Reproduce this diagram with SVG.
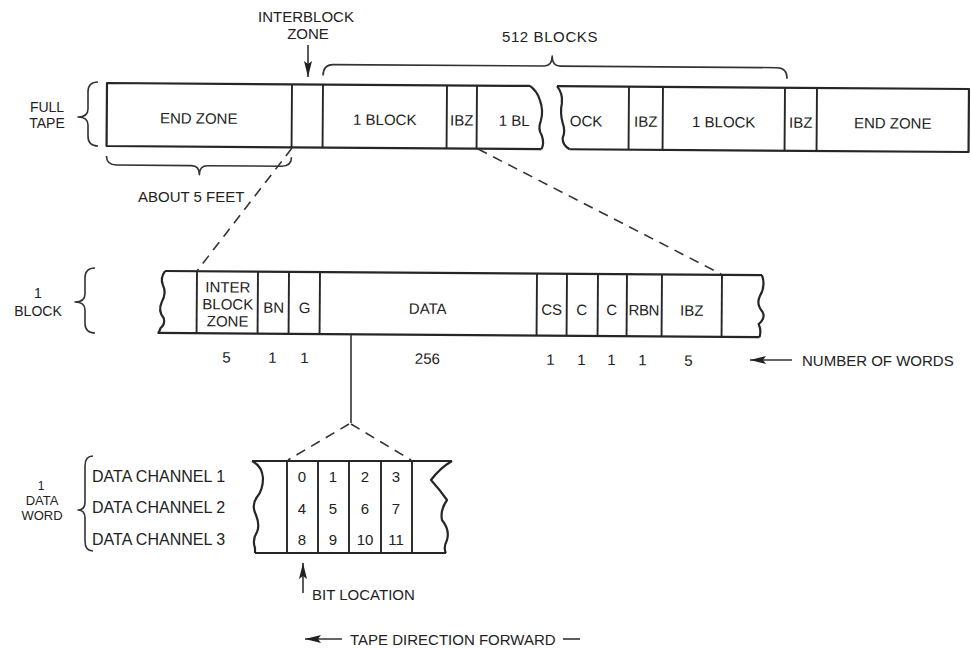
<svg xmlns="http://www.w3.org/2000/svg" width="971" height="649" viewBox="0 0 971 649">
<style>
.t{font-family:"Liberation Sans",Arial,sans-serif;font-size:15px;fill:#222}
.m{text-anchor:middle}
.s{font-size:14px}
.o{fill:none;stroke:#262626;stroke-width:2.2;stroke-linejoin:round}
.d{fill:none;stroke:#262626;stroke-width:1.9}
.b{fill:none;stroke:#333;stroke-width:1.6;stroke-linejoin:round}
.dash{fill:none;stroke:#333;stroke-width:1.6;stroke-dasharray:10 7}
.ln{fill:none;stroke:#333;stroke-width:1.6}
</style>
<defs>
<marker id="ah" viewBox="0 0 16 8" refX="16" refY="4" markerWidth="16" markerHeight="8" markerUnits="userSpaceOnUse" orient="auto">
<path d="M0,0 L16,4 L0,8 L3,4 z" fill="#222"/>
</marker>
</defs>
<rect width="971" height="649" fill="#fff"/>

<!-- Side labels -->
<g id="label-full-tape">
<text class="t m s" x="47" y="112">FULL</text>
<text class="t m s" x="47" y="128">TAPE</text>
<path class="b" d="M98 82 Q88 82 88 92 L88 109 Q88 117 78 117 Q88 117 88 125 L88 136 Q88 146 98 146"/>
</g>
<g id="label-interblock-zone">
<text class="t m" x="306" y="22">INTERBLOCK</text>
<text class="t m" x="308" y="39">ZONE</text>
</g>
<g id="label-512-blocks">
<text class="t m" x="550" y="42" style="letter-spacing:0.6px">512 BLOCKS</text>
</g>

<!-- Full tape (slightly skewed like the original print) -->
<g id="full-tape" transform="rotate(0.4 107 83)">
<path class="o" d="M530 83 L107 83 L107 146 L542 146"/>
<path class="o" d="M530 83 Q537 88 540 97 Q544 108 541 118 Q538 126 542 132 Q545 140 542 146"/>
<path class="o" d="M557 83 L969 83 L969 146 L570 146"/>
<path class="o" d="M557 83 Q563 90 562 100 Q560 110 563 120 Q566 128 563 135 Q563 142 570 146"/>
<g id="tape-end-zone-1"><text class="t m" x="199" y="123">END ZONE</text></g>
<g id="tape-ibz-0"><path class="d" d="M292 83 V146 M323 83 V146"/></g>
<g id="tape-block-1"><text class="t m" x="385" y="123">1 BLOCK</text></g>
<g id="tape-ibz-1"><path class="d" d="M447 83 V146 M477 83 V146"/><text class="t m" x="462" y="123">IBZ</text></g>
<g id="tape-block-2a"><text class="t" x="499" y="123">1 BL</text></g>
<g id="tape-block-2b"><text class="t" x="570" y="123">OCK</text></g>
<g id="tape-ibz-2"><path class="d" d="M629 83 V146 M663 83 V146"/><text class="t m" x="646" y="123">IBZ</text></g>
<g id="tape-block-3"><text class="t m" x="724" y="123">1 BLOCK</text></g>
<g id="tape-ibz-3"><path class="d" d="M785 83 V146 M817 83 V146"/><text class="t m" x="801" y="123">IBZ</text></g>
<g id="tape-end-zone-2"><text class="t m" x="893" y="123">END ZONE</text></g>
<g id="brace-512"><path class="b" d="M323 74 Q323 63 333 63 L544 63 Q552 63 552 53 Q552 63 560 63 L777 63 Q787 63 787 74"/></g>
<g id="brace-5-feet"><path class="b" d="M107 156 Q107 165 117 165 L192 165 Q200 165 200 174 Q200 165 208 165 L282 165 Q292 165 292 156"/></g>
</g>
<g id="label-about-5-feet"><text class="t" x="138" y="202">ABOUT 5 FEET</text></g>

<!-- 1 block label -->
<g id="label-1-block">
<text class="t m s" x="38" y="298">1</text>
<text class="t m s" x="38" y="316">BLOCK</text>
<path class="b" d="M95 268 Q85 268 85 278 L85 294 Q85 302 75 302 Q85 302 85 310 L85 323 Q85 333 95 333"/>
</g>

<!-- Block detail -->
<g id="block-detail" transform="rotate(0.4 162 271)">
<path class="o" d="M165 271 L762 271 M158 333 L760 333"/>
<path class="o" d="M165 271 Q160 278 163 285 Q167 293 162 302 Q158 311 164 318 Q166 324 161 328 L159 333"/>
<path class="o" d="M762 271 Q766 282 760 292 Q756 300 763 308 Q766 314 759 320 Q762 326 760 333"/>
<path class="d" d="M197 271 V333"/>
<g id="blk-ibz-in"><path class="d" d="M258 271 V333"/>
<text class="t m" x="228" y="292">INTER</text><text class="t m" x="228" y="309">BLOCK</text><text class="t m" x="228" y="326">ZONE</text>
<text class="t m" x="227" y="362">5</text></g>
<g id="blk-bn"><path class="d" d="M289 271 V333"/><text class="t m" x="274" y="312">BN</text><text class="t m" x="273" y="362">1</text></g>
<g id="blk-g"><path class="d" d="M320 271 V333"/><text class="t m" x="305" y="312">G</text><text class="t m" x="305" y="362">1</text></g>
<g id="blk-data"><text class="t m" x="428" y="312">DATA</text><text class="t m" x="428" y="362">256</text></g>
<g id="blk-cs"><path class="d" d="M537 271 V333 M567 271 V333"/><text class="t m" x="552" y="312">CS</text><text class="t m" x="551" y="362">1</text></g>
<g id="blk-c1"><path class="d" d="M598 271 V333"/><text class="t m" x="582" y="312">C</text><text class="t m" x="582" y="362">1</text></g>
<g id="blk-c2"><path class="d" d="M627 271 V333"/><text class="t m" x="612" y="312">C</text><text class="t m" x="612" y="362">1</text></g>
<g id="blk-rbn"><path class="d" d="M662 271 V333"/><text class="t m" x="644" y="312" style="letter-spacing:-0.5px">RBN</text><text class="t m" x="643" y="362">1</text></g>
<g id="blk-ibz-out"><path class="d" d="M722 271 V333"/><text class="t m" x="692" y="312">IBZ</text><text class="t m" x="689" y="362">5</text></g>
</g>
<g id="label-number-of-words"><text class="t" x="802" y="366">NUMBER OF WORDS</text></g>

<!-- Data word -->
<g id="label-data-word">
<text class="t m" x="41" y="490" style="font-size:12px">1</text>
<text class="t m" x="42" y="505" style="font-size:13px">DATA</text>
<text class="t m" x="42" y="520" style="font-size:13px">WORD</text>
<path class="b" d="M93 456 Q85 456 85 466 L85 502 Q85 510 78 510 Q85 510 85 518 L85 541 Q85 551 93 551"/>
</g>
<g id="label-channels">
<text class="t" x="92" y="482" style="font-size:16px">DATA CHANNEL 1</text>
<text class="t" x="92" y="513" style="font-size:16px">DATA CHANNEL 2</text>
<text class="t" x="92" y="545" style="font-size:16px">DATA CHANNEL 3</text>
</g>
<g id="data-word">
<path class="o" d="M252 461 L452 461 M255 553 L446 553"/>
<path class="o" d="M252 461 Q262 466 263 478 Q263 490 257 497 Q251 505 256 515 Q260 525 257 532 Q252 540 255 548 L255 553"/>
<path class="o" d="M452 461 Q440 468 431 480 Q440 490 447 500 Q440 510 442 520 Q450 530 447 540 Q443 548 446 553"/>
<path class="d" d="M287 461 V553 M318 461 V553 M349 461 V553 M381 461 V553 M412 461 V553"/>
<g id="bit-col-1"><text class="t m" x="302" y="482">0</text><text class="t m" x="302" y="514">4</text><text class="t m" x="302" y="545">8</text></g>
<g id="bit-col-2"><text class="t m" x="333" y="482">1</text><text class="t m" x="333" y="514">5</text><text class="t m" x="333" y="545">9</text></g>
<g id="bit-col-3"><text class="t m" x="365" y="482">2</text><text class="t m" x="365" y="514">6</text><text class="t m" x="365" y="545">10</text></g>
<g id="bit-col-4"><text class="t m" x="396" y="482">3</text><text class="t m" x="396" y="514">7</text><text class="t m" x="396" y="545">11</text></g>
</g>
<g id="label-bit-location"><text class="t" x="312" y="600">BIT LOCATION</text></g>
<g id="label-tape-direction"><text class="t" x="350" y="645">TAPE DIRECTION FORWARD</text></g>

<!-- Connectors -->
<g id="connectors">
<line class="ln" x1="308" y1="45" x2="308" y2="77" marker-end="url(#ah)"/>
<line class="dash" x1="292" y1="148" x2="197" y2="271"/>
<line class="dash" x1="478" y1="149" x2="721" y2="274"/>
<line class="ln" x1="351" y1="335" x2="351" y2="423"/>
<line class="dash" x1="349" y1="424" x2="288" y2="460"/>
<line class="dash" x1="351" y1="424" x2="411" y2="460"/>
<line class="ln" x1="792" y1="360" x2="750" y2="360" marker-end="url(#ah)"/>
<line class="ln" x1="303" y1="593" x2="303" y2="563" marker-end="url(#ah)"/>
<line class="ln" x1="342" y1="639" x2="305" y2="639" marker-end="url(#ah)"/>
<line class="ln" x1="563" y1="639" x2="580" y2="639"/>
</g>
</svg>
